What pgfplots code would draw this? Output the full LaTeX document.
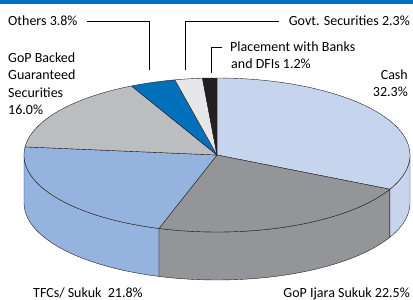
\documentclass[border=0pt]{standalone}
\usepackage{pgfplots}
\pgfplotsset{compat=1.18}
\usepackage{fontspec}
\setmainfont{Carlito}
\definecolor{cCash}{HTML}{C6D4EE}
\definecolor{cIjara}{HTML}{939598}
\definecolor{cTFC}{HTML}{95B3DF}
\definecolor{cBacked}{HTML}{BCBDC0}
\definecolor{cOthers}{HTML}{0070BA}
\definecolor{cGovt}{HTML}{E6E7E8}
\definecolor{cPlace}{HTML}{231F20}
\definecolor{cBanner}{HTML}{0070C0}
\definecolor{cEdge}{HTML}{231F20}
% shares (per cent)
\def\vCash{32.3}\def\vIjara{22.5}\def\vTFC{21.8}\def\vBacked{16.0}
\def\vOthers{3.8}\def\vGovt{2.3}\def\vPlace{1.2}
\def\vTotal{99.9}
% top wedge: #1 cumulative share before, #2 share, #3 colour
\newcommand\topwedge[3]{%
  \addplot[fill=#3, draw=cEdge, line width=0.4pt, line join=round, variable=\s, domain=0:3, samples=151]
  ({217 + rr(\s)*193*cos(ang(\s,#1,#2))}, {145 + rr(\s)*77*sin(ang(\s,#1,#2))}) -- cycle;
}
% side patch between angles #1 and #2 (degrees)
\newcommand\sidepatch[3]{%
  \addplot[fill=#3, draw=cEdge, line width=0.4pt, line join=round, variable=\s, domain=0:4, samples=161]
  ({217 + 193*cos(sang(\s,#1,#2))}, {145 + 77*sin(sang(\s,#1,#2)) + sz(\s)}) -- cycle;
}
\begin{document}
\fontsize{14bp}{17bp}\selectfont
\begin{tikzpicture}
\begin{axis}[hide axis, scale only axis, width=413bp, height=300bp,
  xmin=0, xmax=413, ymin=0, ymax=300, clip=false,
  declare function={
    kk=360/\vTotal;
    rr(\s)=(\s<1) ? \s : ((\s<2) ? 1 : 3-\s);
    ang(\s,\c,\p)=(\s<1) ? (90-kk*\c) : ((\s<2) ? (90-kk*(\c+\p*(\s-1))) : (90-kk*(\c+\p)));
    sang(\s,\a,\b)=(\s<1) ? (\a+(\b-\a)*\s) : ((\s<2) ? \b : ((\s<3) ? (\b-(\b-\a)*(\s-2)) : \a));
    sz(\s)=(\s<1) ? 0 : ((\s<2) ? (-(\s-1)*48) : ((\s<3) ? -48 : (-(4-\s)*48)));
  }]
% banner
\addplot[fill=cBanner, draw=none] coordinates {(0,296) (413,296) (413,300) (0,300)} -- cycle;
% sides (front)
\sidepatch{-180}{90-360/\vTotal*(\vCash+\vIjara)}{cTFC}
\sidepatch{90-360/\vTotal*(\vCash+\vIjara)}{90-360/\vTotal*\vCash}{cIjara}
\sidepatch{90-360/\vTotal*\vCash}{0}{cCash}
% top
\topwedge{0}{\vCash}{cCash}
\topwedge{\vCash}{\vIjara}{cIjara}
\topwedge{\vCash+\vIjara}{\vTFC}{cTFC}
\topwedge{\vCash+\vIjara+\vTFC}{\vBacked}{cBacked}
\topwedge{\vCash+\vIjara+\vTFC+\vBacked}{\vOthers}{cOthers}
\topwedge{\vCash+\vIjara+\vTFC+\vBacked+\vOthers}{\vGovt}{cGovt}
\topwedge{\vCash+\vIjara+\vTFC+\vBacked+\vOthers+\vGovt}{\vPlace}{cPlace}
% leader lines
\addplot[black, line width=0.8pt] coordinates {(87,279) (149,279) (149,230)};
\addplot[black, line width=0.8pt] coordinates {(279,279) (185,279) (185,230)};
\addplot[black, line width=0.8pt] coordinates {(222,253) (211,253) (211,227)};
% labels
\node[anchor=base west, inner sep=0] at (axis cs:8,274.5) {Others 3.8\%};
\node[anchor=base east, inner sep=0] at (axis cs:410,274.5) {Govt. Securities 2.3\%};
\node[anchor=base west, inner sep=0] at (axis cs:230,248.5) {Placement with Banks};
\node[anchor=base west, inner sep=0] at (axis cs:231,231.2) {and DFIs 1.2\%};
\node[anchor=base east, inner sep=0] at (axis cs:408,220.5) {Cash};
\node[anchor=base east, inner sep=0] at (axis cs:408,203.2) {32.3\%};
\node[anchor=base west, inner sep=0] at (axis cs:8,237.5) {GoP Backed};
\node[anchor=base west, inner sep=0] at (axis cs:8,220.5) {Guaranteed};
\node[anchor=base west, inner sep=0] at (axis cs:8,203) {Securities};
\node[anchor=base west, inner sep=0] at (axis cs:8,185.5) {16.0\%};
\node[anchor=base west, inner sep=0] at (axis cs:33,2.5) {TFCs/ Sukuk\ \ 21.8\%};
\node[anchor=base east, inner sep=0] at (axis cs:410,2.5) {GoP Ijara Sukuk 22.5\%};
\end{axis}
\end{tikzpicture}
\end{document}
